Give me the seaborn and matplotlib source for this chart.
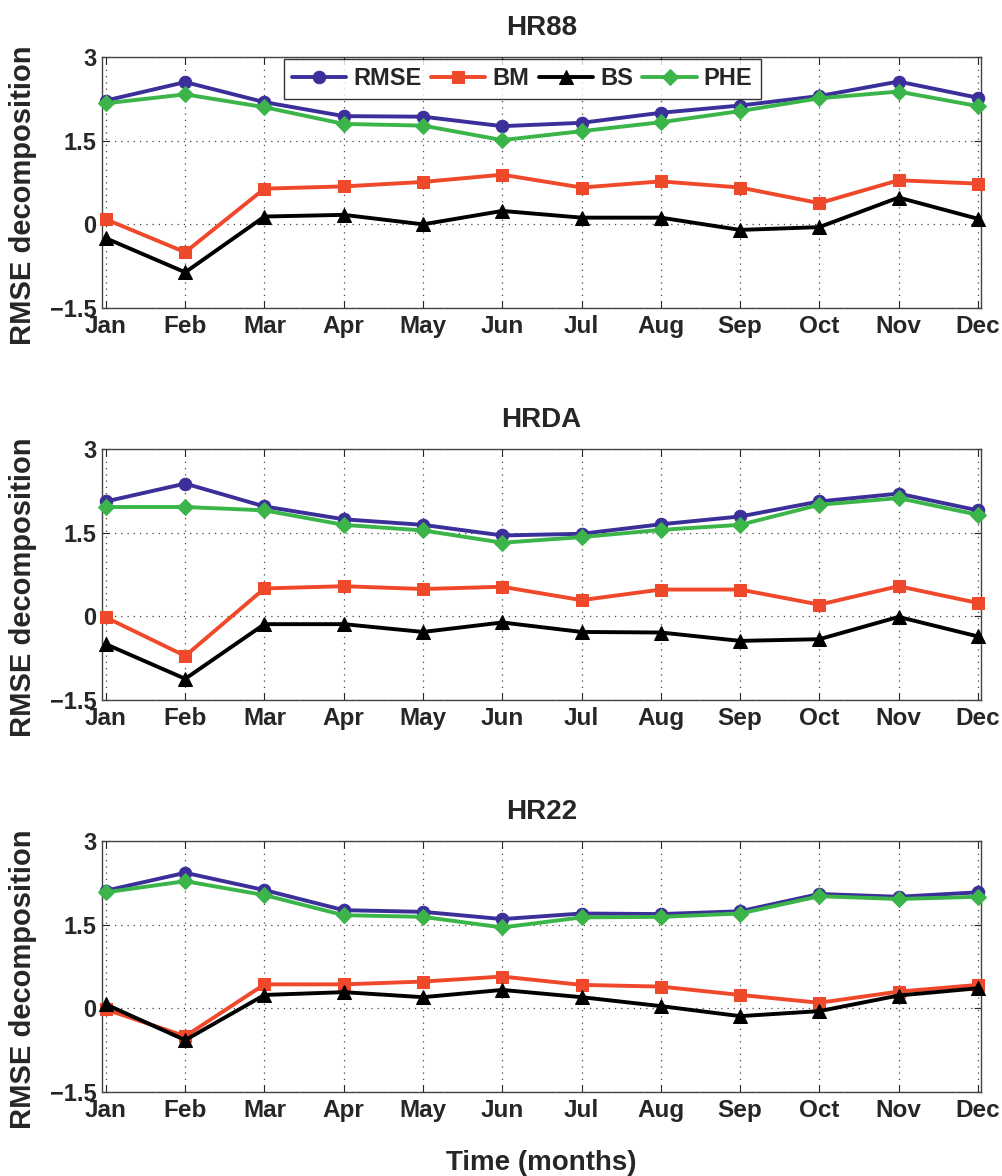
import numpy as np
import pandas as pd
import matplotlib
matplotlib.use("Agg")
import matplotlib.pyplot as plt
import seaborn as sns

months = ["Jan", "Feb", "Mar", "Apr", "May", "Jun", "Jul", "Aug", "Sep", "Oct", "Nov", "Dec"]
panels = ["HR88", "HRDA", "HR22"]
series_names = ["RMSE", "BM", "BS", "PHE"]

hr88_rmse = [2.22, 2.55, 2.19, 1.94, 1.93, 1.76, 1.82, 2.00, 2.13, 2.30, 2.56, 2.27]
hr88_bm   = [0.09, -0.50, 0.64, 0.68, 0.76, 0.89, 0.66, 0.77, 0.66, 0.38, 0.79, 0.73]
hr88_bs   = [-0.25, -0.86, 0.14, 0.17, 0.00, 0.24, 0.12, 0.12, -0.10, -0.05, 0.48, 0.10]
hr88_phe  = [2.17, 2.33, 2.10, 1.80, 1.77, 1.51, 1.67, 1.83, 2.03, 2.26, 2.38, 2.12]

hrda_rmse = [2.06, 2.38, 1.97, 1.74, 1.64, 1.45, 1.48, 1.65, 1.79, 2.06, 2.20, 1.90]
hrda_bm   = [-0.02, -0.71, 0.50, 0.54, 0.49, 0.53, 0.29, 0.48, 0.48, 0.21, 0.54, 0.24]
hrda_bs   = [-0.50, -1.12, -0.14, -0.14, -0.28, -0.11, -0.28, -0.29, -0.44, -0.41, -0.01, -0.36]
hrda_phe  = [1.96, 1.96, 1.90, 1.64, 1.54, 1.32, 1.42, 1.55, 1.64, 2.00, 2.12, 1.82]

hr22_rmse = [2.11, 2.43, 2.12, 1.76, 1.73, 1.60, 1.70, 1.69, 1.74, 2.05, 2.00, 2.08]
hr22_bm   = [-0.02, -0.50, 0.43, 0.43, 0.48, 0.57, 0.42, 0.39, 0.24, 0.10, 0.30, 0.42]
hr22_bs   = [0.07, -0.57, 0.24, 0.29, 0.20, 0.33, 0.20, 0.04, -0.14, -0.05, 0.23, 0.36]
hr22_phe  = [2.08, 2.28, 2.03, 1.67, 1.64, 1.45, 1.63, 1.64, 1.70, 2.01, 1.96, 2.00]

yticks = [-1.5, 0, 1.5, 3]
ytick_labels = ["\u22121.5", "0", "1.5", "3"]

panel_data = {
    "HR88": [hr88_rmse, hr88_bm, hr88_bs, hr88_phe],
    "HRDA": [hrda_rmse, hrda_bm, hrda_bs, hrda_phe],
    "HR22": [hr22_rmse, hr22_bm, hr22_bs, hr22_phe],
}

colors = {"RMSE": "#3b2f9a", "BM": "#f0482a", "BS": "#000000", "PHE": "#3bb54a"}
markers = {"RMSE": "o", "BM": "s", "BS": "^", "PHE": "D"}
msizes = {"RMSE": 9, "BM": 8, "BS": 10.5, "PHE": 8}

sns.set_style("ticks")
plt.rcParams["font.family"] = ["Liberation Sans", "DejaVu Sans"]
plt.rcParams["font.weight"] = "bold"

W, H = 1003, 1176
fig = plt.figure(figsize=(W / 100, H / 100), dpi=100)

ax_left, ax_right = 102, 981
tops = [57, 449, 841]
bottoms = [308, 700, 1092]

x = np.arange(1, 13)
for i, name in enumerate(panels):
    ax = fig.add_axes([ax_left / W, 1 - bottoms[i] / H,
                       (ax_right - ax_left) / W, (bottoms[i] - tops[i]) / H])
    df = pd.DataFrame({"month": np.tile(x, 4),
                       "value": np.concatenate(panel_data[name]),
                       "series": np.repeat(series_names, 12)})
    for s in series_names:
        sub = df[df["series"] == s]
        sns.lineplot(data=sub, x="month", y="value", ax=ax, color=colors[s],
                     marker=markers[s], markersize=msizes[s], markeredgecolor=colors[s],
                     linewidth=2.8, label=s, clip_on=False, zorder=3)
    ax.set_xlim(0.95, 12.04)
    ax.set_ylim(-1.5, 3)
    ax.set_xticks(x)
    ax.set_xticklabels(months, fontsize=17.5, fontweight="bold")
    ax.set_yticks(yticks)
    ax.set_yticklabels(ytick_labels, fontsize=17, fontweight="bold")
    ax.grid(True, linestyle=(0, (1, 4)), color="#444444", linewidth=0.9)
    ax.tick_params(axis="x", direction="in", length=5, width=0.8, top=True, pad=5)
    ax.tick_params(axis="y", direction="in", length=5, width=0.8, right=True, pad=4)
    for sp in ax.spines.values():
        sp.set_linewidth(1.0)
        sp.set_color("#444444")
    ax.set_xlabel("")
    ax.set_ylabel("RMSE decomposition", fontsize=21, fontweight="bold")
    ax.yaxis.set_label_coords(-0.074, 0.45)
    ax.set_title(name, fontsize=20, fontweight="bold", pad=16)
    if i == 0:
        leg = ax.legend(loc="upper center", bbox_to_anchor=(0.478, 0.992), ncol=4,
                        frameon=True, fancybox=False, edgecolor="black",
                        fontsize=17, handlelength=2.3, handletextpad=0.3,
                        columnspacing=0.4, borderpad=0.35, borderaxespad=0.0)
        leg.get_frame().set_linewidth(1.0)
        for t in leg.get_texts():
            t.set_fontweight("bold")
    else:
        ax.get_legend().remove()

fig.text(0.5 * (ax_left + ax_right) / W, 1 - 1163 / H, "Time (months)", ha="center", va="center",
         fontsize=20, fontweight="bold")

fig.savefig("out.png", dpi=100)
